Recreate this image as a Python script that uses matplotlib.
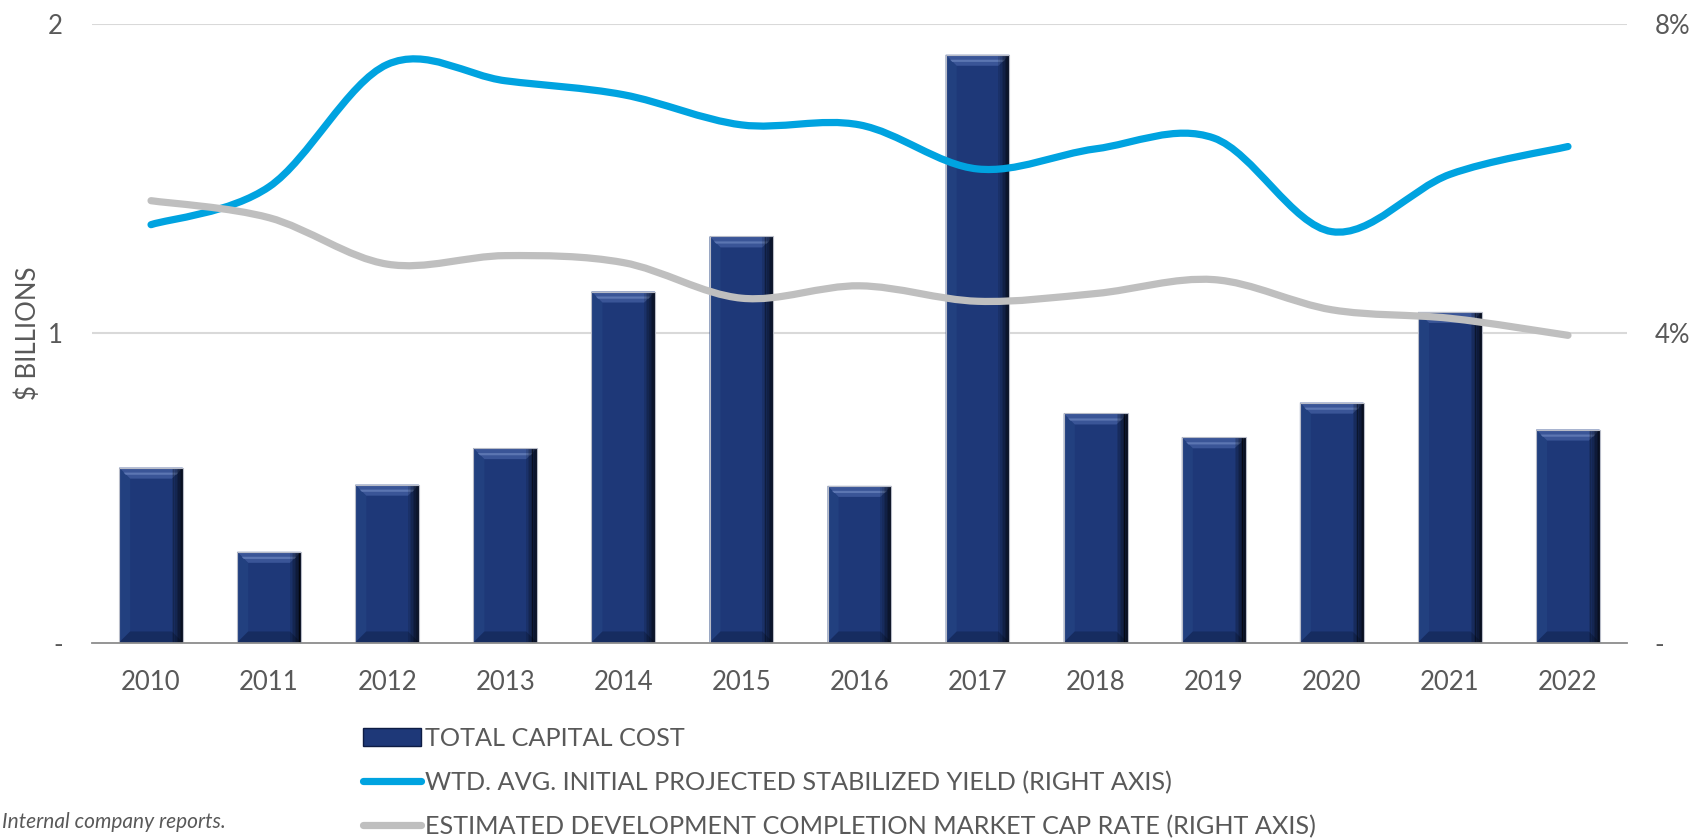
import numpy as np
import matplotlib
matplotlib.use("Agg")
import matplotlib.pyplot as plt
from matplotlib.path import Path
from matplotlib.patches import PathPatch, Rectangle, Polygon, Patch
from matplotlib.lines import Line2D

years = ["2010", "2011", "2012", "2013", "2014", "2015", "2016",
         "2017", "2018", "2019", "2020", "2021", "2022"]
capital_cost = [0.565, 0.293, 0.51, 0.628, 1.134, 1.312, 0.506,
                1.899, 0.74, 0.663, 0.775, 1.068, 0.688]
stabilized_yield = [5.40, 5.89, 7.47, 7.26, 7.08, 6.69, 6.69,
                    6.12, 6.38, 6.52, 5.31, 6.05, 6.41]
market_cap_rate = [5.71, 5.49, 4.89, 5.00, 4.91, 4.45, 4.61,
                   4.41, 4.51, 4.69, 4.30, 4.19, 3.97]
left_ticks = [0, 1, 2]
left_labels = ["-", "1", "2"]
right_ticks = [0, 4, 8]
right_labels = ["-", "4%", "8%"]
legend_labels = ["TOTAL CAPITAL COST",
                 "WTD. AVG. INITIAL PROJECTED STABILIZED YIELD (RIGHT AXIS)",
                 "ESTIMATED DEVELOPMENT COMPLETION MARKET CAP RATE (RIGHT AXIS)"]

FONT = "Lato"
TXT = "#595959"
BAR = "#1E3878"
BLUE = "#00A3E0"
GRAY = "#BFBFBF"
FS = 18.5
LFS = 18.2

plt.rcParams["font.family"] = [FONT, "DejaVu Sans"]

W, H = 1692, 840
fig = plt.figure(figsize=(W / 100, H / 100), dpi=100)
ax = fig.add_axes([92 / W, 1 - 642.5 / H, (1627 - 92) / W, (642.5 - 23.5) / H])
ax.set_xlim(-0.5, len(years) - 0.5)
ax.set_ylim(0, 2)

for s in ["top", "left", "right"]:
    ax.spines[s].set_visible(False)
ax.spines["bottom"].set_color("#8C8C8C")
ax.spines["bottom"].set_linewidth(1.3)
ax.spines["bottom"].set_zorder(4)

ax.set_yticks(left_ticks)
ax.set_yticklabels(left_labels)
ax.set_xticks(range(len(years)))
ax.set_xticklabels(years)
ax.tick_params(axis="both", length=0, labelsize=FS, labelcolor=TXT)
ax.tick_params(axis="y", pad=21)
ax.tick_params(axis="x", pad=20)
for yv in left_ticks[1:]:
    ax.axhline(yv, color="#D9D9D9", lw=1.5, zorder=0)
ax.set_ylabel("$ BILLIONS", fontsize=FS, color=TXT, labelpad=5)

# bevelled bars
bw = 0.54
px_x = (1627 - 92) / len(years)          # pixels per x unit
px_y = (642.5 - 23.5) / 2.0              # pixels per y unit
bx = 11 / px_x
by = 11 / px_y
for i, v in enumerate(capital_cost):
    x0, x1 = i - bw / 2, i + bw / 2
    ax.add_patch(Rectangle((x0, 0), bw, v, facecolor=BAR, edgecolor="none", zorder=2))
    ax.add_patch(Polygon([(x0, v), (x1, v), (x1 - bx, v - by), (x0 + bx, v - by)],
                         closed=True, facecolor="#3A5597", edgecolor="none", zorder=2.1))
    ax.add_patch(Polygon([(x0 + bx * 0.4, v - by * 0.45), (x1 - bx * 0.4, v - by * 0.45),
                          (x1 - bx * 0.6, v - by * 0.65), (x0 + bx * 0.6, v - by * 0.65)],
                         closed=True, facecolor="#5C76B2", edgecolor="none", zorder=2.15))
    ax.add_patch(Polygon([(x0, 0), (x1, 0), (x1 - bx, by), (x0 + bx, by)],
                         closed=True, facecolor="#162C60", edgecolor="none", zorder=2.1))
    ax.add_patch(Polygon([(x0, 0), (x0, v), (x0 + bx, v - by), (x0 + bx, by)],
                         closed=True, facecolor="#22407F", edgecolor="none", zorder=2.05))
    n = 7
    for k in range(n):
        xa = x1 - bx + k * bx / n
        ax.add_patch(Rectangle((xa, 0), bx / n + 0.001, v, facecolor="black",
                               alpha=0.12 + 0.1 * k, edgecolor="none", zorder=2.2))
    ax.add_patch(Rectangle((x0, 0), bw, v, facecolor="none", edgecolor="#B8BCC8",
                           lw=0.8, zorder=2.3))

ax2 = ax.twinx()
ax2.set_ylim(0, 8)
ax2.set_yticks(right_ticks)
ax2.set_yticklabels(right_labels)
ax2.tick_params(axis="y", length=0, labelsize=FS, labelcolor=TXT, pad=20)
for s in ["top", "left", "right", "bottom"]:
    ax2.spines[s].set_visible(False)


def smooth_path(xs, ys):
    xs = np.asarray(xs, float)
    ys = np.asarray(ys, float)
    pts = np.column_stack([xs, ys])
    n = len(pts)
    verts = [pts[0]]
    codes = [Path.MOVETO]
    for i in range(n - 1):
        p0 = pts[i - 1] if i > 0 else pts[i]
        p1 = pts[i]
        p2 = pts[i + 1]
        p3 = pts[i + 2] if i + 2 < n else pts[i + 1]
        c1 = p1 + (p2 - p0) / 6.0
        c2 = p2 - (p3 - p1) / 6.0
        verts += [c1, c2, p2]
        codes += [Path.CURVE4] * 3
    return Path(verts, codes)


xs = np.arange(len(years))
for vals, col in [(stabilized_yield, BLUE), (market_cap_rate, GRAY)]:
    pp = PathPatch(smooth_path(xs, vals), facecolor="none", edgecolor=col,
                   lw=5.2, capstyle="round", joinstyle="round", zorder=3)
    ax2.add_patch(pp)

handles = [Patch(facecolor=BAR, edgecolor="#0E1C44", lw=1),
           Line2D([], [], color=BLUE, lw=5.2, solid_capstyle="round"),
           Line2D([], [], color=GRAY, lw=5.2, solid_capstyle="round")]
leg = fig.legend(handles, legend_labels, loc="upper left",
                 bbox_to_anchor=(363 / W, 1 - 727 / H), frameon=False,
                 fontsize=LFS, handlelength=2.3, handletextpad=0.15,
                 labelspacing=0.82, borderpad=0, borderaxespad=0)
for t in leg.get_texts():
    t.set_color(TXT)

fig.text(2 / W, 1 - 822 / H, "Internal company reports.", fontsize=15,
         style="italic", color=TXT, va="center", ha="left")

fig.savefig("out.png", dpi=100)
